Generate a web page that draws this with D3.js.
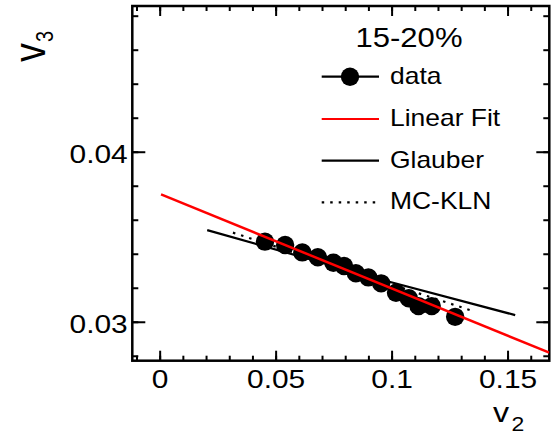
<!DOCTYPE html>
<html>
<head>
<meta charset="utf-8">
<script src="https://cdn.jsdelivr.net/npm/d3@7"></script>
<style>
  body { margin: 0; background: #fff; }
  svg { display: block; font-family: "Liberation Sans", Arial, sans-serif; }
</style>
</head>
<body>
<div id="chart"></div>
<script>
// measured points (v2, v3)
const dataV2 = [0.0454, 0.0541, 0.0615, 0.0682, 0.0749, 0.0795, 0.0846, 0.0900, 0.0955, 0.1019, 0.1074, 0.1116, 0.1173, 0.1274]
const dataV3 = [0.03471, 0.03451, 0.03408, 0.03379, 0.03347, 0.03328, 0.03285, 0.03261, 0.03226, 0.03171, 0.03138, 0.03092, 0.03092, 0.03029]

// linear fit end points
const fitV2 = [0.0006, 0.168]
const fitV3 = [0.03749, 0.02818]

// model curves
const glauberV2 = [0.0205, 0.0990, 0.1533]
const glauberV3 = [0.03539, 0.03235, 0.03039]
const mcklnV2 = [0.0316, 0.1360]
const mcklnV3 = [0.03524, 0.03059]

// axes
const xTicks = [0, 0.05, 0.1, 0.15]
const xTickLabels = ['0', '0.05', '0.1', '0.15']
const yTicks = [0.03, 0.04]
const yTickLabels = ['0.03', '0.04']

const centrality = '15-20%'
const legendLabels = ['data', 'Linear Fit', 'Glauber', 'MC-KLN']

const W = 558, H = 435
const pLeft = 132.3, pRight = 549.3, pTop = 6, pBottom = 360.7
const stretch = 1.15 // text in the picture is a bit wide

const x = d3.scaleLinear().domain([-0.0118, 0.168]).range([pLeft, pRight])
const y = d3.scaleLinear().domain([0.02771, 0.04857]).range([pBottom, pTop])

const svg = d3.select('#chart')
    .append('svg')
        .attr('width', W)
        .attr('height', H)

svg.append('defs').append('clipPath').attr('id', 'clip')
    .append('rect')
        .attr('x', pLeft).attr('y', pTop)
        .attr('width', pRight - pLeft).attr('height', pBottom - pTop)

// widen a text element around its anchor point
function widen(sel) {
    sel.each(function () {
        const t = d3.select(this)
        const tx = +t.attr('x') || 0, ty = +t.attr('y') || 0
        t.attr('transform', `translate(${tx},${ty}) scale(${stretch},1) translate(${-tx},${-ty})`)
    })
}

const xMinor = d3.range(-0.01, 0.1681, 0.01)
const yMinor = d3.range(0.028, 0.0486, 0.002)

function styleAxis(g) {
    g.select('.domain').remove()
    g.selectAll('line').attr('stroke', '#000').attr('stroke-width', 2)
}

// minor ticks, all four sides
svg.append('g').attr('transform', `translate(0,${pBottom})`)
    .call(d3.axisBottom(x).tickValues(xMinor).tickSize(-5).tickFormat(''))
    .call(styleAxis)
svg.append('g').attr('transform', `translate(0,${pTop})`)
    .call(d3.axisTop(x).tickValues(xMinor).tickSize(-5).tickFormat(''))
    .call(styleAxis)
svg.append('g').attr('transform', `translate(${pLeft},0)`)
    .call(d3.axisLeft(y).tickValues(yMinor).tickSize(-6).tickFormat(''))
    .call(styleAxis)
svg.append('g').attr('transform', `translate(${pRight},0)`)
    .call(d3.axisRight(y).tickValues(yMinor).tickSize(-6).tickFormat(''))
    .call(styleAxis)

// major ticks with labels
const xAxis = svg.append('g').attr('transform', `translate(0,${pBottom})`)
    .call(d3.axisBottom(x).tickValues(xTicks).tickSize(-10).tickPadding(8.5)
        .tickFormat((d, i) => xTickLabels[i]))
    .call(styleAxis)
svg.append('g').attr('transform', `translate(0,${pTop})`)
    .call(d3.axisTop(x).tickValues(xTicks).tickSize(-10).tickFormat(''))
    .call(styleAxis)
const yAxis = svg.append('g').attr('transform', `translate(${pLeft},0)`)
    .call(d3.axisLeft(y).tickValues(yTicks).tickSize(-13).tickPadding(4.6)
        .tickFormat((d, i) => yTickLabels[i]))
    .call(styleAxis)
svg.append('g').attr('transform', `translate(${pRight},0)`)
    .call(d3.axisRight(y).tickValues(yTicks).tickSize(-13).tickFormat(''))
    .call(styleAxis)

xAxis.selectAll('text').attr('font-size', 26).attr('fill', '#000')
    .attr('font-family', '"Liberation Sans", Arial, sans-serif').call(widen)
yAxis.selectAll('text').attr('font-size', 26).attr('fill', '#000').attr('dy', '0.4em')
    .attr('font-family', '"Liberation Sans", Arial, sans-serif').call(widen)

// frame
svg.append('rect')
    .attr('x', pLeft).attr('y', pTop)
    .attr('width', pRight - pLeft).attr('height', pBottom - pTop)
    .attr('fill', 'none').attr('stroke', '#000').attr('stroke-width', 2.5)

const plot = svg.append('g').attr('clip-path', 'url(#clip)')
const line = d3.line().x(d => x(d[0])).y(d => y(d[1]))

plot.append('path')
    .datum(glauberV2.map((v, i) => [v, glauberV3[i]]))
    .attr('d', line)
    .attr('fill', 'none').attr('stroke', '#000').attr('stroke-width', 2.2)

plot.append('path')
    .datum(mcklnV2.map((v, i) => [v, mcklnV3[i]]))
    .attr('d', line)
    .attr('fill', 'none').attr('stroke', '#000').attr('stroke-width', 2.2)
    .attr('stroke-dasharray', '2.5,6')

plot.selectAll('circle.pt')
    .data(dataV2)
    .enter()
    .append('circle')
        .attr('class', 'pt')
        .attr('cx', d => x(d))
        .attr('cy', (d, i) => y(dataV3[i]))
        .attr('r', 9.2)
        .attr('fill', '#000')

plot.append('path')
    .datum(fitV2.map((v, i) => [v, fitV3[i]]))
    .attr('d', line)
    .attr('fill', 'none').attr('stroke', '#ff0000').attr('stroke-width', 2.5)

// legend
svg.append('text')
    .attr('x', 409).attr('y', 46.7)
    .attr('text-anchor', 'middle')
    .attr('font-size', 27)
    .text(centrality)
    .call(widen)

const legendRows = [76.7, 119, 160.7, 202.3]
const legendStyles = [
    { stroke: '#000', dash: null },
    { stroke: '#ff0000', dash: null },
    { stroke: '#000', dash: null },
    { stroke: '#000', dash: '2.5,6' }
]
const lg = svg.append('g')
legendRows.forEach((ly, i) => {
    lg.append('line')
        .attr('x1', 321.7).attr('x2', 379)
        .attr('y1', ly).attr('y2', ly)
        .attr('stroke', legendStyles[i].stroke)
        .attr('stroke-width', 2.2)
        .attr('stroke-dasharray', legendStyles[i].dash)
    if (i === 0) {
        lg.append('circle').attr('cx', 350).attr('cy', ly).attr('r', 9.2).attr('fill', '#000')
    }
    lg.append('text')
        .attr('x', 390).attr('y', ly + 7.2)
        .attr('font-size', 23)
        .text(legendLabels[i])
        .call(widen)
})

// axis titles
const xt = svg.append('text').attr('x', 493).attr('y', 421.7).attr('font-size', 28)
xt.append('tspan').text('v')
xt.append('tspan').attr('font-size', 20).attr('dy', 9).attr('dx', 2).text('2')
xt.call(widen)

const yt = svg.append('text')
    .attr('transform', `translate(45,62) scale(${stretch},1) rotate(-90)`)
    .attr('font-size', 38)
yt.append('tspan').text('v')
yt.append('tspan').attr('font-size', 20).attr('dy', 7).attr('dx', 1).text('3')
</script>
</body>
</html>
